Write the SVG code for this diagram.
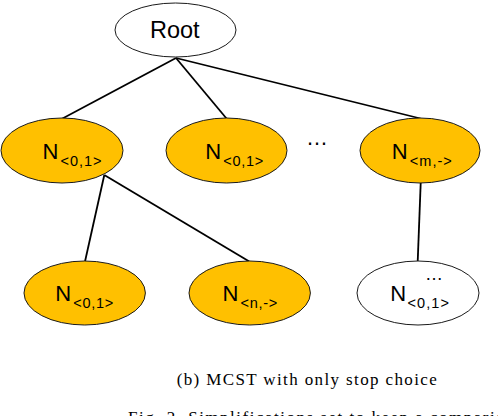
<svg xmlns="http://www.w3.org/2000/svg" width="498" height="416" viewBox="0 0 498 416">
<style>
.node{stroke:#1a1a1a;stroke-width:1}
.gold{fill:#FFC000}
.white{fill:#ffffff}
.lbl{font-family:"Liberation Sans",Arial,sans-serif;fill:#000}
.big{font-size:22px}
.sub{font-size:14.5px}
.edge{stroke:#000;stroke-width:1.8;fill:none}
.cap{font-family:"Liberation Serif","Times New Roman",serif;font-size:17px;fill:#000}
</style>
<rect width="498" height="416" fill="#ffffff"/>
<g id="connectors">
<line class="edge" x1="176" y1="58" x2="62.5" y2="118.5"/>
<line class="edge" x1="176" y1="58" x2="226.5" y2="118.5"/>
<line class="edge" x1="176" y1="58" x2="420.5" y2="118.5"/>
<line class="edge" x1="104.3" y1="175" x2="85" y2="261.5"/>
<line class="edge" x1="104.3" y1="175" x2="249.3" y2="261.5"/>
<line class="edge" x1="420.7" y1="183" x2="417.7" y2="261.5"/>
</g>
<g id="root">
<ellipse class="node white" cx="175.5" cy="30" rx="60.5" ry="27"/>
<text class="lbl" x="150" y="37.7" font-size="23.5px">Root</text>
</g>
<g id="n1">
<ellipse class="node gold" cx="62" cy="150.5" rx="61" ry="32.5"/>
<text class="lbl big" x="42.5" y="158.7">N</text>
<text class="lbl sub" x="60.5" y="165.7" textLength="41" lengthAdjust="spacing">&lt;0,1&gt;</text>
</g>
<g id="n2">
<ellipse class="node gold" cx="226.5" cy="150.5" rx="60.5" ry="32.5"/>
<text class="lbl big" x="205.2" y="158.7">N</text>
<text class="lbl sub" x="223.3" y="165.7" textLength="40" lengthAdjust="spacing">&lt;0,1&gt;</text>
</g>
<text id="dots1" class="lbl big" x="306" y="144.5">…</text>
<g id="n3">
<ellipse class="node gold" cx="420" cy="150.5" rx="60" ry="32.5"/>
<text class="lbl big" x="391.8" y="158.7">N</text>
<text class="lbl sub" x="409.8" y="165.7" textLength="42" lengthAdjust="spacing">&lt;m,-&gt;</text>
</g>
<g id="n4">
<ellipse class="node gold" cx="84.7" cy="293" rx="60.7" ry="32"/>
<text class="lbl big" x="55.2" y="301">N</text>
<text class="lbl sub" x="73.3" y="308" textLength="40" lengthAdjust="spacing">&lt;0,1&gt;</text>
</g>
<g id="n5">
<ellipse class="node gold" cx="249.7" cy="293" rx="60.7" ry="32"/>
<text class="lbl big" x="222.5" y="301">N</text>
<text class="lbl sub" x="240.6" y="308" textLength="36.6" lengthAdjust="spacing">&lt;n,-&gt;</text>
</g>
<g id="n6">
<ellipse class="node white" cx="418" cy="293" rx="61" ry="32"/>
<text class="lbl" x="425" y="280" font-size="18px">…</text>
<text class="lbl big" x="390.2" y="301">N</text>
<text class="lbl sub" x="407.5" y="308" textLength="41.5" lengthAdjust="spacing">&lt;0,1&gt;</text>
</g>
<text class="cap" x="176.7" y="385" textLength="260" lengthAdjust="spacing">(b) MCST with only stop choice</text>
<text class="cap" x="128" y="422.5" letter-spacing="1.5">Fig. 2. Simplifications set to keep a comparison</text>
</svg>
